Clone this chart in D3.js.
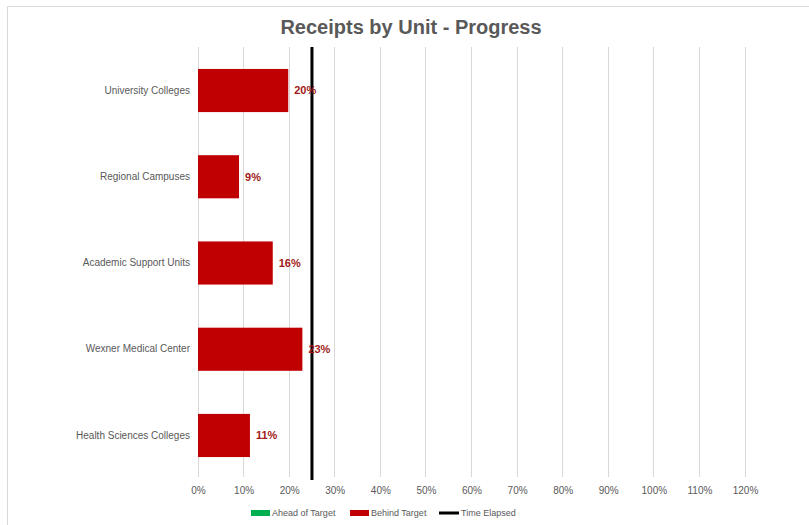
<!DOCTYPE html>
<html><head><meta charset="utf-8">
<script src="https://cdn.jsdelivr.net/npm/d3@7"></script>
<style>body{margin:0;background:#fff}svg{display:block}text{font-family:"Liberation Sans",Arial,sans-serif}</style>
</head><body><svg id="c" width="809" height="525"></svg>
<script>
const categories = ["University Colleges","Regional Campuses","Academic Support Units","Wexner Medical Center","Health Sciences Colleges"];
const progress = [0.198, 0.09, 0.164, 0.229, 0.114];
const labels = ["20%","9%","16%","23%","11%"];
const timeElapsed = 0.25;
const xTicks = [0,0.1,0.2,0.3,0.4,0.5,0.6,0.7,0.8,0.9,1.0,1.1,1.2];
const legendItems = ["Ahead of Target","Behind Target","Time Elapsed"];

const svg = d3.select("#c");
svg.append("rect").attr("x",7.5).attr("y",6.5).attr("width",810).attr("height",530).attr("fill","#fff").attr("stroke","#d9d9d9");

const x = d3.scaleLinear().domain([0,1.2]).range([198,745]);
const y = d3.scaleBand().domain(categories).range([47.4,478.6]).paddingInner(0.5).paddingOuter(0.25);

// gridlines
svg.append("g").selectAll("line").data(xTicks).join("line")
  .attr("x1",d=>x(d)).attr("x2",d=>x(d)).attr("y1",47).attr("y2",477)
  .attr("stroke","#d9d9d9").attr("stroke-width",1).attr("shape-rendering","crispEdges");

// x axis labels
const xAxis = d3.axisBottom(x).tickValues(xTicks).tickFormat(d3.format(".0%")).tickSize(0).tickPadding(10);
const gx = svg.append("g").attr("transform","translate(0,477)").call(xAxis);
gx.select(".domain").remove();
gx.selectAll("text").attr("fill","#595959").style("font-size","10px");

// y axis labels
const yAxis = d3.axisLeft(y).tickSize(0).tickPadding(8);
const gy = svg.append("g").attr("transform","translate(198,0)").call(yAxis);
gy.select(".domain").remove();
gy.selectAll("text").attr("fill","#595959").style("font-size","10px");

// bars
const data = categories.map((c,i)=>({c,v:progress[i],l:labels[i]}));
svg.append("g").selectAll("rect").data(data).join("rect")
  .attr("x",x(0)).attr("y",d=>y(d.c)).attr("width",d=>x(d.v)-x(0)).attr("height",y.bandwidth())
  .attr("fill","#c00000");

// time elapsed line
svg.append("line").attr("x1",x(timeElapsed)).attr("x2",x(timeElapsed)).attr("y1",47).attr("y2",480)
  .attr("stroke","#000").attr("stroke-width",3);

// value labels
svg.append("g").selectAll("text").data(data).join("text")
  .attr("x",d=>x(d.v)+6).attr("y",d=>y(d.c)+y.bandwidth()/2).attr("dy","0.35em")
  .attr("fill","#a01818").style("font-size","11px").style("font-weight","bold").text(d=>d.l);

// title
svg.append("text").attr("x",411).attr("y",34).attr("text-anchor","middle")
  .attr("fill","#595959").style("font-size","20px").style("font-weight","bold").text("Receipts by Unit - Progress");

// legend
const lg = svg.append("g");
const lx = [251,350,439];
const lc = ["#00b050","#c00000","#000"];
legendItems.forEach((t,i)=>{
  if(i<2) lg.append("rect").attr("x",lx[i]).attr("y",510).attr("width",19).attr("height",6).attr("fill",lc[i]);
  else lg.append("rect").attr("x",lx[i]).attr("y",511.5).attr("width",20).attr("height",3).attr("fill",lc[i]);
  lg.append("text").attr("x",lx[i]+(i<2?21:22)).attr("y",513).attr("dy","0.35em").attr("fill","#595959").style("font-size","9px").text(t);
});
</script></body></html>
